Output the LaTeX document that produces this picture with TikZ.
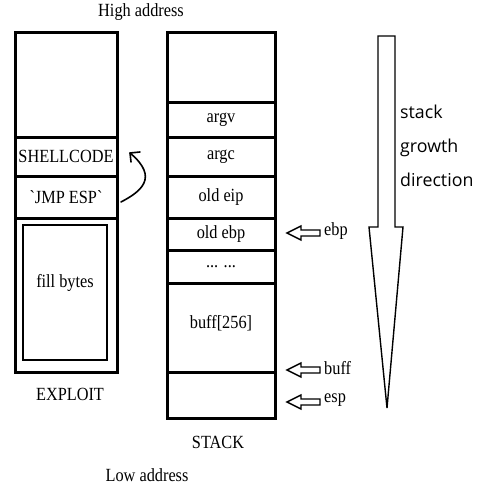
\documentclass[tikz,border=0pt]{standalone}
\usepackage{graphicx}
\usepackage{fontspec}
\setmainfont{Liberation Serif}
\newfontfamily\labelsans{Open Sans}
\newcommand\tallt[1]{\scalebox{1}[1.14]{#1}}
\begin{document}
\begin{tikzpicture}[x=1pt,y=-1pt,
  cell/.style={draw, line width=3pt, inner sep=0pt, minimum width=#1, font=\fontsize{16.3}{18}\selectfont},
  cell/.default=102pt,
  txt/.style={inner sep=0pt, font=\fontsize{16.3}{18}\selectfont},
  hollow/.style={draw, line width=1.4pt, fill=white, line join=miter}]
\useasboundingbox (0,0) rectangle (480,484);
% labels
\node[txt] (high) at (141,12) {\tallt{High address}};
\node[txt] (low) at (147,475) {\tallt{Low address}};
% EXPLOIT column
\node[cell, minimum height=104pt] (etop) at (66,85) {};
\node[cell, minimum height=39pt] (shell) at (66,156.5) {\tallt{SHELLCODE}};
\node[cell, minimum height=42pt] (jmp) at (66,197) {\tallt{\textasciigrave JMP ESP\textasciigrave}};
\node[cell, minimum height=154pt] (fill) at (66,295) {};
\node[draw, line width=2.2pt, minimum width=84pt, minimum height=135pt, inner sep=0pt] (inner) at (65,292.5) {};
\node[txt] (filltext) at (65,283) {\tallt{fill bytes}};
\node[txt] (exploit) at (70,394) {\tallt{EXPLOIT}};
% STACK column
\node[cell=108pt, minimum height=70pt] (stop) at (221,68) {};
\node[cell=108pt, minimum height=34pt] (argv) at (221,120) {\tallt{argv}};
\node[cell=108pt, minimum height=39pt] (argc) at (221,156.5) {\tallt{argc}};
\node[cell=108pt, minimum height=42pt] (eip) at (221,197) {\tallt{old eip}};
\node[cell=108pt, minimum height=32pt] (ebp) at (221,234) {\tallt{old ebp}};
\node[cell=108pt, minimum height=33pt] (dots) at (221,266.5) {\tallt{... ...}};
\node[cell=108pt, minimum height=89pt] (buff) at (221,327.5) {};
\node[txt] (bufftext) at (221,323) {\tallt{buff[256]}};
\node[cell=108pt, minimum height=46pt] (sbot) at (221,395) {};
\node[txt] (stack) at (218,442) {\tallt{STACK}};
% curved arrow from JMP ESP to SHELLCODE
\coordinate (cs) at (121,202);
\coordinate (ce) at (130,153);
\draw[line width=1.6pt, line cap=round] (cs) .. controls (140,192) and (160,178) .. (ce);
\draw[line width=1.6pt, line cap=round] (ce) -- (131,162) (ce) -- (140,152);
% pointer arrows
\foreach \y/\lab/\nm in {233/ebp/pebp, 370/buff/pbuff, 402/esp/pesp}{
  \draw[hollow] (287,\y) -- (301,\y-7) -- (301,\y-3) -- (320,\y-3) -- (320,\y+3) -- (301,\y+3) -- (301,\y+7) -- cycle;
  \node[txt, anchor=west] (\nm) at (324,\y-2) {\tallt{\lab}};
}
% stack growth direction arrow
\draw[line width=1.4pt, line join=miter] (378,36) -- (395,36) -- (395,227) -- (403,227) -- (387,408) -- (369,227) -- (378,227) -- cycle;
\node[inner sep=0pt, anchor=north west, align=left, font=\labelsans\fontsize{17.8}{34}\selectfont] (growth) at (400,105) {stack\\growth\\direction};
\end{tikzpicture}
\end{document}
